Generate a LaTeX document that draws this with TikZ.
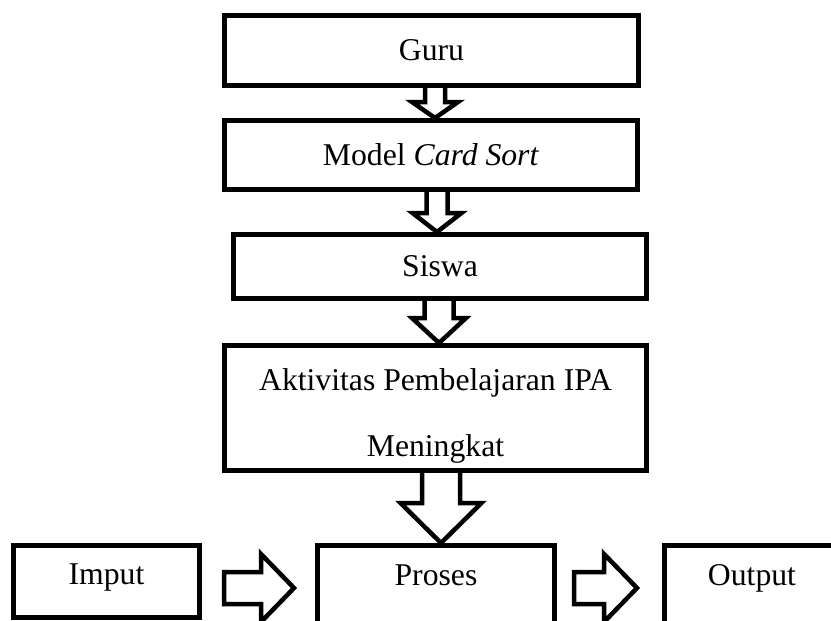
\documentclass[tikz,border=0pt]{standalone}
\usepackage{fontspec}
\setmainfont{Liberation Serif}
\usetikzlibrary{calc}
\tikzset{
  box/.style={draw, line width=5pt, line join=miter, fill=white, rectangle, inner sep=0pt,
    font=\fontsize{31.7}{38}\selectfont, text height=20pt, text depth=0pt, align=center},
  blockarrow/.style={draw, line width=4.5pt, line join=miter, fill=white}
}
% #1 source node, #2 target node, #3 centre x, #4 shaft half width, #5 head half width, #6 head length
\newcommand{\downblock}[6]{%
  \draw[blockarrow] ({#3-#4},0 |- #1.south)
    -- ($({#3-#4},0 |- #2.north)+(0,-#6)$)
    -- ($({#3-#5},0 |- #2.north)+(0,-#6)$)
    -- ({#3},0 |- #2.north)
    -- ($({#3+#5},0 |- #2.north)+(0,-#6)$)
    -- ($({#3+#4},0 |- #2.north)+(0,-#6)$)
    -- ({#3+#4},0 |- #1.south);}
% #1 source node, #2 gap, #3 target node, #4 gap, #5 centre y, #6 shaft half, #7 head half, #8 head length
\newcommand{\rightblock}[8]{%
  \path ($(#1.east)+(#2,0)$) coordinate (rbs) ($(#3.west)+(-#4,0)$) coordinate (rbt);
  \draw[blockarrow] (rbs |- 0,{#5-#6})
    -- ($(rbt |- 0,{#5-#6})+(-#8,0)$)
    -- ($(rbt |- 0,{#5-#7})+(-#8,0)$)
    -- (rbt |- 0,#5)
    -- ($(rbt |- 0,{#5+#7})+(-#8,0)$)
    -- ($(rbt |- 0,{#5+#6})+(-#8,0)$)
    -- (rbs |- 0,{#5+#6}) -- cycle;}
\begin{document}
\begin{tikzpicture}[x=1pt,y=-1pt]
\useasboundingbox (0,0) rectangle (831,621);
\clip (0,0) rectangle (831,621);
\fill[white] (0,0) rectangle (831,621);

\node[box, minimum width=414pt, minimum height=70pt] (guru) at (431.5,50.5) {Guru};
\node[box, minimum width=413pt, minimum height=69pt] (model) at (431,155) {Model \textit{Card Sort}};
\node[box, minimum width=413pt, minimum height=64pt] (siswa) at (440,266.5) {Siswa};
\node[box, minimum width=422pt, minimum height=125pt, text depth=56pt] (aktiv) at (435.5,408)
  {\begin{tabular}[t]{@{}c@{}}Aktivitas Pembelajaran IPA\\[28pt]Meningkat\end{tabular}};
\node[box, minimum width=186pt, minimum height=72pt, text depth=15pt] (imput) at (106.5,581.5) {Imput};
\node[box, minimum width=237pt, minimum height=112pt, text depth=53pt] (proses) at (436,601.5) {Proses};
\node[box, minimum width=175pt, minimum height=112pt, text depth=53pt] (output) at (752,601.5) {Output};

\downblock{guru}{model}{435}{10}{23}{16}
\downblock{model}{siswa}{437}{10.5}{24.5}{19}
\downblock{siswa}{aktiv}{439}{14.5}{27}{25}
\downblock{aktiv}{proses}{441}{19}{40.5}{40}

\rightblock{imput}{22}{proses}{21}{588}{16}{34}{33}
\rightblock{proses}{17}{output}{25}{588}{16}{34}{33}
\end{tikzpicture}
\end{document}
